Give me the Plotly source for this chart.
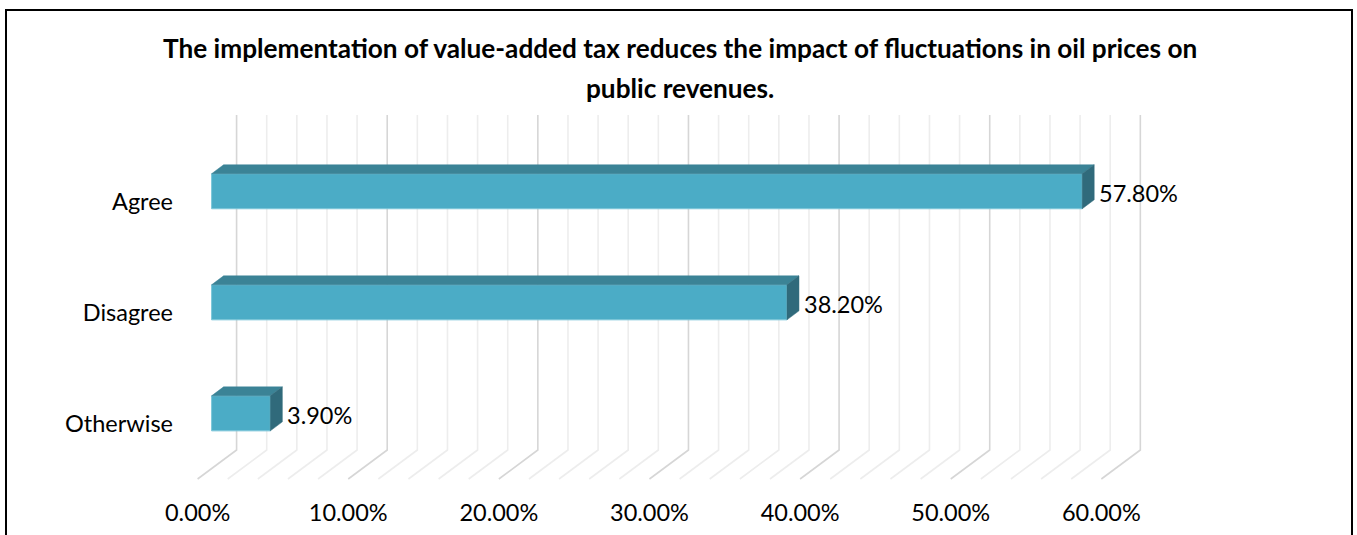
import plotly.graph_objects as go

# Survey responses (share of respondents, %)
categories = ["Agree", "Disagree", "Otherwise"]
values = [57.80, 38.20, 3.90]
tick_values = [0, 10, 20, 30, 40, 50, 60]
tick_labels = ["0.00%", "10.00%", "20.00%", "30.00%", "40.00%", "50.00%", "60.00%"]
title_lines = [
    "The implementation of value-added tax reduces the impact of fluctuations in oil prices on",
    "public revenues.",
]

W, H = 1357, 535
L, T, PW, PH = 189, 108, 964, 372
X_RANGE = [-1.5, 62.5]
Y_RANGE = [-0.6, 2.75]

FONT = "Lato"
FRONT = "#4BACC6"
TOP = "#3B8396"
SIDE = "#306A7B"

# 3D look: depth offsets expressed in axis units
px_x = PW / (X_RANGE[1] - X_RANGE[0])
px_y = PH / (Y_RANGE[1] - Y_RANGE[0])
Y0_PX = T + Y_RANGE[1] * px_y
BAR_W = 35 / px_y
DX, DY = 12 / px_x, 9 / px_y
WALL_DX, FLOOR_DX = 25 / px_x, -14 / px_x
WALL_TOP = (Y0_PX - 115) / px_y
WALL_BOT = (Y0_PX - 450) / px_y
FLOOR_FRONT = (Y0_PX - 479) / px_y

ypos = [len(categories) - 1 - i for i in range(len(categories))]


def paper_x(px):
    return (px - L) / PW


def paper_y(px):
    return (T + PH - px) / PH


fig = go.Figure()

# front faces
fig.add_trace(go.Bar(
    x=values, y=ypos, orientation="h", width=BAR_W, base=0,
    marker=dict(color=FRONT, line=dict(color="#7CC6D9", width=1)),
    hoverinfo="skip", showlegend=False,
))

# top and side faces
for v, y in zip(values, ypos):
    top = y + BAR_W / 2
    bot = y - BAR_W / 2
    fig.add_trace(go.Scatter(
        x=[0, v, v + DX, DX, 0], y=[top, top, top + DY, top + DY, top],
        fill="toself", fillcolor=TOP, mode="lines", line=dict(color=TOP, width=0.5),
        hoverinfo="skip", showlegend=False,
    ))
    fig.add_trace(go.Scatter(
        x=[v, v, v + DX, v + DX, v], y=[bot, top, top + DY, bot + DY, bot],
        fill="toself", fillcolor=SIDE, mode="lines", line=dict(color=SIDE, width=0.5),
        hoverinfo="skip", showlegend=False,
    ))

shapes = []
# back wall and floor gridlines
for g in range(0, 61, 2):
    major = g % 10 == 0
    shapes.append(dict(
        type="path", xref="x", yref="y", layer="below",
        path=(f"M {g + WALL_DX} {WALL_TOP} L {g + WALL_DX} {WALL_BOT} "
              f"L {g + FLOOR_DX} {FLOOR_FRONT}"),
        line=dict(color="#D6D6D6" if major else "#EDEDED", width=1.6),
    ))

# chart frame
shapes.append(dict(
    type="rect", xref="paper", yref="paper",
    x0=paper_x(6), x1=paper_x(1352), y0=paper_y(548), y1=paper_y(10),
    line=dict(color="black", width=2), fillcolor="rgba(0,0,0,0)",
))

annotations = []
for v, y in zip(values, ypos):
    annotations.append(dict(
        x=v, y=y, xref="x", yref="y", text=f"{v:.2f}%", showarrow=False,
        xanchor="left", yanchor="middle", xshift=DX * px_x + 3, yshift=-2,
        font=dict(family=FONT, size=23.5, color="black"),
    ))

for line, cy in zip(title_lines, [48, 88]):
    annotations.append(dict(
        x=paper_x(680), y=paper_y(cy), xref="paper", yref="paper",
        text=f"<b>{line}</b>", showarrow=False, xanchor="center", yanchor="middle",
        font=dict(family=FONT, size=26.2, color="black"),
    ))

fig.update_layout(
    width=W, height=H,
    margin=dict(l=L, r=W - L - PW, t=T, b=H - T - PH, pad=0, autoexpand=False),
    paper_bgcolor="white", plot_bgcolor="white",
    shapes=shapes, annotations=annotations,
    xaxis=dict(
        range=X_RANGE, tickvals=tick_values, ticktext=tick_labels,
        showgrid=False, zeroline=False, showline=False, ticks="",
        ticklabelshift=-14, ticklabelstandoff=16, automargin=False,
        tickfont=dict(family=FONT, size=23.5, color="black"),
        fixedrange=True,
    ),
    yaxis=dict(
        range=Y_RANGE, tickvals=ypos, ticktext=categories,
        showgrid=False, zeroline=False, showline=False, ticks="",
        ticklabelshift=10, ticklabelstandoff=15, automargin=False,
        tickfont=dict(family=FONT, size=23.5, color="black"),
        fixedrange=True,
    ),
)

fig.write_html("out.html")
